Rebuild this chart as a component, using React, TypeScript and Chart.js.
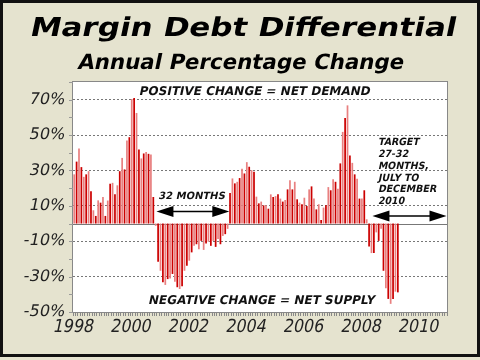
import React, { useEffect, useRef } from 'react';
import { Chart, registerables } from 'chart.js';
Chart.register(...registerables);

// ---- data ----
const START_YEAR = 1998;
const END_YEAR = 2010;
const MONTH_LABELS: string[] = [];
for (let y = START_YEAR; y <= END_YEAR; y++) {
  for (let m = 1; m <= 12; m++) MONTH_LABELS.push(`${y}-${String(m).padStart(2, '0')}`);
}
// Annual % change of margin debt, monthly from Jan 1998
const CHANGE_1998_2000 = [
  27.8, 35, 42.4, 31.9, 26.4, 27.8, 29.6, 18.2, 7.5, 4.3, 13.1, 11.8,
  15, 4.3, 13, 22.5, 23, 16.5, 21.6, 29.6, 37.1, 30.6, 46.9, 48.8,
  70.4, 71, 62.5, 41.8, 36.8, 39.6, 40.5, 39.4, 39, 15,
];
const CHANGE_2000_2003 = [
  -1.3, -21.6, -26.7, -33.2, -34.7, -31.4, -31, -28.5, -32.9, -36, -37, -35.5,
  -26.7, -23.9, -21, -16.3, -12.6, -11.7, -14.5, -9.8, -14.9, -11.3, -10.3, -12.6,
  -9.8, -13.2, -8.8, -11.7, -7, -6, -3,
];
const CHANGE_2003_2006 = [
  17.2, 25.5, 22.7, 23.6, 25.7, 31, 28.3, 34.7, 32.1, 30.2, 29.3, 15.2,
  11.4, 12.4, 10.3, 10.3, 8.4, 16.5, 15, 15.5, 16.5, 14.1, 12.4, 13.3,
  19.3, 24.4, 19.3, 23.6, 13.7, 11.8, 10.9, 14.6, 9.9, 19.3, 21,
];
const CHANGE_2006_2008 = [
  14.1, 8, 10.9, 2, 9, 10.3, 20.6, 18.8, 25, 23.6, 19.7, 34,
  51.8, 59.7, 66.8, 38.5, 34.3, 27.8, 25.3, 14.1, 14.1, 18.8, 2.4,
];
const CHANGE_2008_2009 = [
  -13, -16.7, -16.7, -5, -9.8, -3, -26.7, -36.6, -42.6, -45.4, -42.6, -38.5, -38.9,
];
const MARGIN_CHANGE: (number | null)[] = [
  ...CHANGE_1998_2000, ...CHANGE_2000_2003, ...CHANGE_2003_2006, ...CHANGE_2006_2008, ...CHANGE_2008_2009,
];
while (MARGIN_CHANGE.length < MONTH_LABELS.length) MARGIN_CHANGE.push(null);

const Y_TICKS = [-50, -30, -10, 10, 30, 50, 70];
const Y_MIN = -50;
const Y_MAX = 80;
const X_TICK_YEARS = [1998, 2000, 2002, 2004, 2006, 2008, 2010];

const TITLE = 'Margin Debt Differential';
const SUBTITLE = 'Annual Percentage Change';
const TOP_NOTE = 'POSITIVE CHANGE = NET DEMAND';
const BOTTOM_NOTE = 'NEGATIVE CHANGE = NET SUPPLY';
const SPAN_NOTE = '32 MONTHS';
const TARGET_NOTE = ['TARGET', '27-32', 'MONTHS,', 'JULY TO', 'DECEMBER', '2010'];

// ---- styles ----
const BG = '#e5e3cf';
const DARK = '#cc0000';
const LIGHT = '#e88080';
const FONT = '"DejaVu Sans", Verdana, sans-serif';
const SKEW = -0.21;

function slanted(
  ctx: CanvasRenderingContext2D, text: string, x: number, y: number,
  font: string, align: CanvasTextAlign, baseline: CanvasTextBaseline, opts: { sx?: number; width?: number } = {},
) {
  ctx.save();
  ctx.font = font;
  ctx.textAlign = align;
  ctx.textBaseline = baseline;
  let sx = opts.sx ?? 1;
  if (opts.width) sx = opts.width / ctx.measureText(text).width;
  ctx.translate(x, y);
  ctx.transform(sx, 0, SKEW, 1, 0, 0);
  ctx.fillText(text, 0, 0);
  ctx.restore();
}

function drawArrow(ctx: CanvasRenderingContext2D, x1: number, x2: number, y: number) {
  const hl = 17, hh = 5.5;
  ctx.strokeStyle = '#000';
  ctx.lineWidth = 1.5;
  ctx.beginPath();
  ctx.moveTo(x1 + hl - 2, y);
  ctx.lineTo(x2 - hl + 2, y);
  ctx.stroke();
  ctx.fillStyle = '#000';
  ctx.beginPath();
  ctx.moveTo(x1, y);
  ctx.lineTo(x1 + hl, y - hh);
  ctx.lineTo(x1 + hl, y + hh);
  ctx.closePath();
  ctx.fill();
  ctx.beginPath();
  ctx.moveTo(x2, y);
  ctx.lineTo(x2 - hl, y - hh);
  ctx.lineTo(x2 - hl, y + hh);
  ctx.closePath();
  ctx.fill();
}

const decorPlugin = {
  id: 'decor',
  beforeDraw(chart: any) {
    const { ctx, width, height, chartArea } = chart;
    ctx.save();
    ctx.fillStyle = BG;
    ctx.fillRect(0, 0, width, height);
    ctx.fillStyle = '#fff';
    ctx.fillRect(chartArea.left, chartArea.top, chartArea.right - chartArea.left, chartArea.bottom - chartArea.top);
    ctx.restore();
  },
  beforeDatasetsDraw(chart: any) {
    const { ctx, chartArea, scales } = chart;
    const y0 = Math.round(scales.y.getPixelForValue(0)) + 0.5;
    ctx.save();
    ctx.strokeStyle = '#777';
    ctx.lineWidth = 1;
    ctx.beginPath();
    ctx.moveTo(chartArea.left, y0);
    ctx.lineTo(chartArea.right, y0);
    ctx.stroke();
    ctx.restore();
  },
  afterDatasetsDraw(chart: any) {
    const { ctx, chartArea, scales, width, height } = chart;
    const xs = scales.x, ys = scales.y;
    ctx.save();
    // plot frame
    ctx.strokeStyle = '#888';
    ctx.lineWidth = 1;
    ctx.strokeRect(chartArea.left - 0.5, chartArea.top - 0.5, chartArea.right - chartArea.left + 1, chartArea.bottom - chartArea.top + 1);
    // minor y ticks
    ctx.strokeStyle = '#999';
    for (let v = Y_MIN; v <= Y_MAX; v += 10) {
      const py = Math.round(ys.getPixelForValue(v)) + 0.5;
      ctx.beginPath();
      ctx.moveTo(chartArea.left - 4, py);
      ctx.lineTo(chartArea.left, py);
      ctx.stroke();
    }
    // axis tick labels (slanted)
    ctx.fillStyle = '#222';
    Y_TICKS.forEach((v) => {
      slanted(ctx, `${v}%`, chartArea.left - 8, ys.getPixelForValue(v), `16px ${FONT}`, 'right', 'middle');
    });
    X_TICK_YEARS.forEach((yr) => {
      const idx = (yr - START_YEAR) * 12;
      slanted(ctx, String(yr), xs.getPixelForValue(idx) - 1.5, 331.5, `18px ${FONT}`, 'center', 'alphabetic', { sx: 0.88 });
    });
    // notes
    ctx.fillStyle = '#111';
    const bold12 = `bold 12px ${FONT}`;
    slanted(ctx, TOP_NOTE, xs.getPixelForValue(75.4), ys.getPixelForValue(74.3), bold12, 'center', 'middle');
    slanted(ctx, BOTTOM_NOTE, xs.getPixelForValue(78.3), ys.getPixelForValue(-43.6), bold12, 'center', 'middle');
    slanted(ctx, SPAN_NOTE, xs.getPixelForValue(49.2), ys.getPixelForValue(15.5), `bold 10px ${FONT}`, 'center', 'middle');
    const tx = xs.getPixelForValue(126.9);
    const ty = ys.getPixelForValue(45.6);
    TARGET_NOTE.forEach((s, i) => slanted(ctx, s, tx, ty + i * 11.7, `bold 10px ${FONT}`, 'left', 'middle', { sx: 0.95 }));
    // arrows
    drawArrow(ctx, xs.getPixelForValue(34.3), xs.getPixelForValue(64.7), ys.getPixelForValue(6.8));
    drawArrow(ctx, xs.getPixelForValue(124.4), xs.getPixelForValue(155.3), ys.getPixelForValue(4.3));
    // titles
    ctx.fillStyle = '#000';
    slanted(ctx, TITLE, width / 2 + 2, 36, `bold 26px ${FONT}`, 'center', 'alphabetic', { width: 426 });
    slanted(ctx, SUBTITLE, width / 2, 68.5, `bold 21px ${FONT}`, 'center', 'alphabetic', { width: 326 });
    // outer frame
    ctx.strokeStyle = '#111';
    ctx.lineWidth = 3;
    ctx.strokeRect(1.5, 1.5, width - 3, height - 6);
    ctx.restore();
  },
};

export default function App() {
  const ref = useRef<HTMLCanvasElement | null>(null);
  useEffect(() => {
    if (!ref.current) return;
    const chart = new Chart(ref.current, {
      type: 'bar',
      data: {
        labels: MONTH_LABELS,
        datasets: [
          {
            data: MARGIN_CHANGE,
            backgroundColor: MARGIN_CHANGE.map((_, i) => (i % 2 === 0 ? LIGHT : DARK)),
            borderWidth: 0,
            barPercentage: 0.72,
            categoryPercentage: 1,
          },
        ],
      },
      options: {
        animation: false,
        responsive: false,
        devicePixelRatio: 1,
        layout: { padding: { left: 0, top: 82, right: 33, bottom: 0 } },
        plugins: { legend: { display: false }, tooltip: { enabled: false }, title: { display: false } },
        scales: {
          x: {
            type: 'category',
            offset: true,
            grid: { offset: true, drawOnChartArea: false, drawTicks: true, tickLength: 4, color: '#888', lineWidth: 1 },
            border: { display: false },
            ticks: { display: false, autoSkip: false },
            afterFit: (s: any) => { s.height = 48; },
          },
          y: {
            min: Y_MIN,
            max: Y_MAX,
            afterBuildTicks: (s: any) => { s.ticks = Y_TICKS.map((v) => ({ value: v })); },
            grid: { drawTicks: false, color: '#777', lineWidth: 1 },
            border: { display: false, dash: [2, 2] },
            ticks: { display: false },
            afterFit: (s: any) => { s.width = 73; },
          },
        },
      },
      plugins: [decorPlugin],
    });
    return () => chart.destroy();
  }, []);
  return (
    <div style={{ position: 'absolute', left: 0, top: 0, width: 480, height: 360 }}>
      <canvas ref={ref} width={480} height={360} />
    </div>
  );
}
